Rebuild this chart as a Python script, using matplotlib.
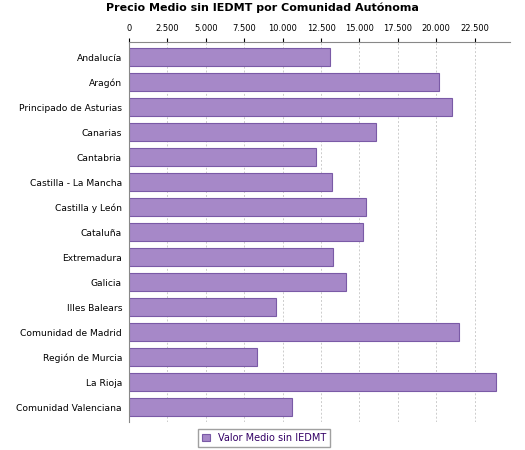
import matplotlib
matplotlib.use("Agg")
import matplotlib.pyplot as plt
from matplotlib.ticker import FuncFormatter

regions = ["Andalucía","Aragón","Principado de Asturias","Canarias","Cantabria",
           "Castilla - La Mancha","Castilla y León","Cataluña","Extremadura","Galicia",
           "Illes Balears","Comunidad de Madrid","Región de Murcia","La Rioja","Comunidad Valenciana"]
values = [13100,20200,21050,16050,12200,13200,15450,15250,13300,14100,9600,21450,8300,23900,10600]
ticks = [0,2500,5000,7500,10000,12500,15000,17500,20000,22500]

fig = plt.figure(figsize=(5.25,4.5), dpi=100)
ax = fig.add_axes([129/525, 1-422/450, 381/525, (422-42)/450])
y = range(len(regions))
ax.barh(y, values, height=0.72, color="#a688c8", edgecolor="#7a5aa6", linewidth=0.8, label="Valor Medio sin IEDMT")
ax.set_yticks(list(y)); ax.set_yticklabels(regions, fontsize=6.6)
ax.set_ylim(len(regions)-0.4, -0.6)
ax.set_xlim(0, 24800)
ax.set_xticks(ticks)
ax.xaxis.set_major_formatter(FuncFormatter(lambda v,p: f"{int(v):,}".replace(",",".")))
ax.xaxis.tick_top()
ax.tick_params(axis='x', labelsize=6, length=3)
ax.tick_params(axis='y', length=0, pad=5)
ax.grid(axis='x', linestyle=(0,(2,2)), color="#cccccc", linewidth=0.7)
ax.set_axisbelow(True)
for s in ["right","bottom"]:
    ax.spines[s].set_visible(False)
ax.spines["top"].set_color("#888888"); ax.spines["left"].set_color("#888888")
fig.text(0.5, 1-8/450, "Precio Medio sin IEDMT por Comunidad Autónoma", ha="center", va="center", fontsize=8, fontweight="bold")
fig.legend(loc="center", bbox_to_anchor=(264/525, 1-438/450), fontsize=7, frameon=True,
           fancybox=False, edgecolor="#888888", handlelength=0.8, handleheight=0.8, labelcolor="#330066")
fig.savefig("out.png", dpi=100)
